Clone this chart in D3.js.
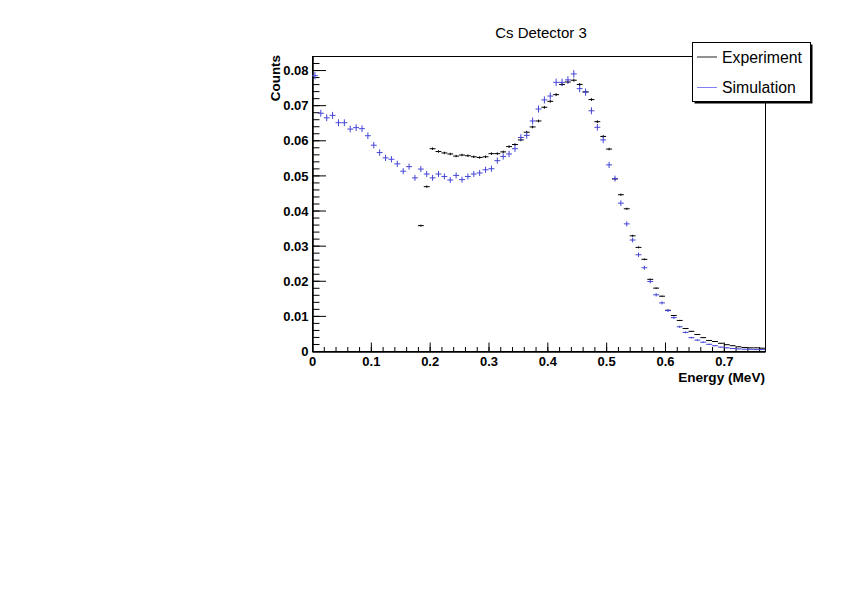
<!DOCTYPE html>
<html>
<head>
<meta charset="utf-8">
<script src="https://cdn.jsdelivr.net/npm/d3@7"></script>
<style>
  html, body { margin: 0; padding: 0; background: #fff; }
  svg { display: block; }
  text { font-family: "Liberation Sans", Arial, Helvetica, sans-serif; }
</style>
</head>
<body>
<svg id="chart" width="842" height="595"></svg>
<script>
// ---- data ----
const energy = [0.005,0.015,0.025,0.035,0.045,0.055,0.065,0.075,0.085,0.095,
  0.105,0.115,0.125,0.135,0.145,0.155,0.165,0.175,0.185,0.195,
  0.205,0.215,0.225,0.235,0.245,0.255,0.265,0.275,0.285,0.295,
  0.305,0.315,0.325,0.335,0.345,0.355,0.365,0.375,0.385,0.395,
  0.405,0.415,0.425,0.435,0.445,0.455,0.465,0.475,0.485,0.495,
  0.505,0.515,0.525,0.535,0.545,0.555,0.565,0.575,0.585,0.595,
  0.605,0.615,0.625,0.635,0.645,0.655,0.665,0.675,0.685,0.695,
  0.705,0.715,0.725,0.735,0.745,0.755,0.765];
const binWidth = 0.01;

const simulation = [0.0784,0.0677,0.0664,0.0671,0.0650,0.0650,0.0632,0.0636,0.0633,0.0613,
  0.0586,0.0565,0.0550,0.0546,0.0533,0.0512,0.0525,0.0493,0.0518,0.0504,
  0.0493,0.0504,0.0497,0.0487,0.0500,0.0488,0.0497,0.0504,0.0507,0.0516,
  0.0519,0.0542,0.0554,0.0561,0.0576,0.0608,0.0614,0.0655,0.0689,0.0715,
  0.0726,0.0765,0.0765,0.0772,0.0789,0.0747,0.0737,0.0684,0.0637,0.0601,
  0.0530,0.0491,0.0421,0.0362,0.0316,0.0274,0.0237,0.0198,0.0160,0.0137,
  0.0115,0.0095,0.0069,0.0053,0.0038,0.0031,0.0025,0.0019,0.0015,0.0011,
  0.0009,0.0007,0.0006,0.0005,0.0005,0.0004,0.0004];

const experiment = [null,null,null,null,null,null,null,null,null,null,
  null,null,null,null,null,null,null,null,0.0357,0.0468,
  0.0576,0.0568,0.0564,0.0561,0.0555,0.0558,0.0556,0.0553,0.0551,0.0553,
  0.0562,0.0562,0.0567,0.0582,0.0588,0.0601,0.0623,0.0638,0.0655,0.0694,
  0.0711,0.0730,0.0759,0.0766,0.0771,0.0759,0.0738,0.0716,0.0653,0.0611,
  0.0575,0.0490,0.0445,0.0405,0.0328,0.0295,0.0261,0.0204,0.0179,0.0156,
  0.0116,0.0101,0.0087,0.0064,0.0056,0.0047,0.0038,0.0030,0.0027,0.0022,
  0.0018,0.0015,0.0012,0.0010,0.0009,0.0009,0.0008];

// statistical error scale factors (err = k * sqrt(value))
const simErrK = 0.0038;
const expErrK = 0.0015;

const xMajorTicks = [0,0.1,0.2,0.3,0.4,0.5,0.6,0.7];
const yMajorTicks = [0,0.01,0.02,0.03,0.04,0.05,0.06,0.07,0.08];
const titleText = "Cs Detector 3";
const xLabel = "Energy (MeV)";
const yLabel = "Counts";
const legendLabels = ["Experiment", "Simulation"];

// ---- layout ----
const svg = d3.select("#chart");
const L = 312, R = 765, T = 56, B = 351;
const x = d3.scaleLinear().domain([0, 0.77]).range([L, R]);
const y = d3.scaleLinear().domain([0, 0.084]).range([B, T]);

const simColor = "#4444d8";
const expColor = "#000";

svg.append("rect").attr("width", 842).attr("height", 595).attr("fill", "#fff");

// frame
svg.append("rect").attr("x", L + 0.5).attr("y", T + 0.5)
  .attr("width", R - L).attr("height", B - T)
  .attr("fill", "none").attr("stroke", "#000").attr("stroke-width", 1);

// axes
const fmt = d => d === 0 ? "0" : d3.format(".1f")(d);
const fmtY = d => d === 0 ? "0" : d3.format(".2f")(d);

const xMinor = d3.range(0, 0.7701, 0.02);
const yMinor = d3.range(0, 0.0841, 0.002);

const gxMinor = svg.append("g").attr("transform", `translate(0,${B + 0.5})`)
  .call(d3.axisBottom(x).tickValues(xMinor).tickSize(-4.5).tickSizeOuter(0).tickFormat(""));
const gx = svg.append("g").attr("transform", `translate(0,${B + 0.5})`)
  .call(d3.axisBottom(x).tickValues(xMajorTicks).tickSize(-9).tickSizeOuter(0).tickPadding(5).tickFormat(fmt));
const gyMinor = svg.append("g").attr("transform", `translate(${L + 0.5},0)`)
  .call(d3.axisLeft(y).tickValues(yMinor).tickSize(-7).tickSizeOuter(0).tickFormat(""));
const gy = svg.append("g").attr("transform", `translate(${L + 0.5},0)`)
  .call(d3.axisLeft(y).tickValues(yMajorTicks).tickSize(-13.5).tickSizeOuter(0).tickPadding(4).tickFormat(fmtY));

[gxMinor, gx, gyMinor, gy].forEach(g => {
  g.selectAll(".domain").attr("stroke", "#000");
  g.selectAll(".tick line").attr("stroke", "#000");
  g.selectAll("text").attr("font-size", 13).attr("font-weight", "bold")
    .attr("font-family", "'Liberation Sans', Arial, sans-serif").attr("fill", "#000");
});
gy.selectAll(".tick text").attr("dy", "0.36em");

// axis titles
svg.append("text").attr("x", R).attr("y", 382).attr("text-anchor", "end")
  .attr("font-size", 13.6).attr("font-weight", "bold").text(xLabel);
svg.append("text").attr("transform", `translate(280,${T - 1}) rotate(-90)`)
  .attr("text-anchor", "end").attr("font-size", 13.4).attr("font-weight", "bold").text(yLabel);

// title
svg.append("text").attr("x", 541).attr("y", 38).attr("text-anchor", "middle")
  .attr("font-size", 15).text(titleText);

// marks
function drawSeries(values, k, color, cls) {
  const pts = energy.map((e, i) => ({e, v: values[i]})).filter(d => d.v != null);
  const g = svg.append("g").attr("class", cls).attr("stroke", color).attr("stroke-width", 1);
  g.selectAll("line.h").data(pts).join("line").attr("class", "h")
    .attr("x1", d => x(d.e - binWidth / 2)).attr("x2", d => x(d.e + binWidth / 2))
    .attr("y1", d => y(d.v)).attr("y2", d => y(d.v));
  g.selectAll("line.v").data(pts).join("line").attr("class", "v")
    .attr("x1", d => x(d.e)).attr("x2", d => x(d.e))
    .attr("y1", d => y(d.v + k * Math.sqrt(d.v))).attr("y2", d => y(Math.max(0, d.v - k * Math.sqrt(d.v))));
}
drawSeries(experiment, expErrK, expColor, "exp");
drawSeries(simulation, simErrK, simColor, "sim");

// legend
const lg = svg.append("g");
lg.append("rect").attr("x", 694.5).attr("y", 44.5).attr("width", 118).attr("height", 59).attr("fill", "#000");
lg.append("rect").attr("x", 692.5).attr("y", 42.5).attr("width", 118).attr("height", 59)
  .attr("fill", "#fff").attr("stroke", "#000");
const legColors = ["#222", "#8080f0"];
const legY = [57, 87.5];
legendLabels.forEach((lab, i) => {
  lg.append("line").attr("x1", 697).attr("x2", 717).attr("y1", legY[i]).attr("y2", legY[i])
    .attr("stroke", legColors[i]).attr("stroke-width", 1);
  lg.append("text").attr("x", 722).attr("y", legY[i] + 5.5).attr("font-size", 15.8).text(lab);
});
</script>
</body>
</html>
